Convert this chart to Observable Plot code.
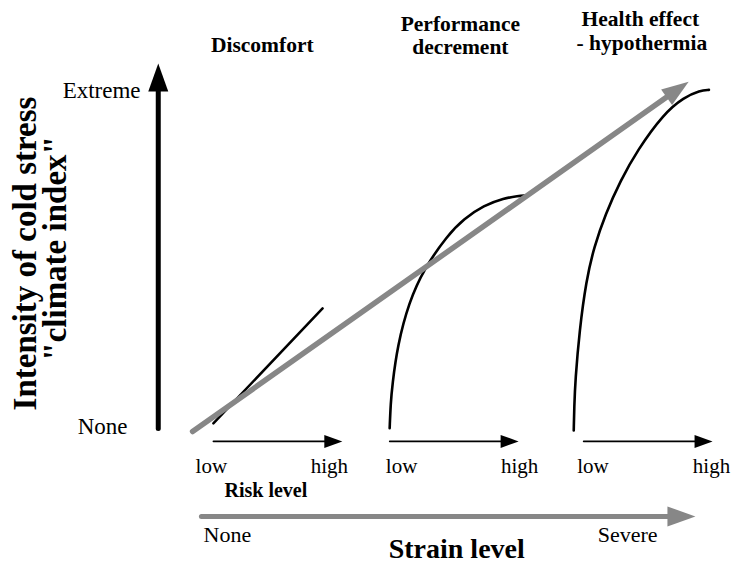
<!DOCTYPE html>
<html><head><meta charset="utf-8">
<script src="https://cdn.jsdelivr.net/npm/d3@7"></script>
<script src="https://cdn.jsdelivr.net/npm/@observablehq/plot@0.6"></script>
<style>body{margin:0;background:#fff} svg{display:block}</style>
</head><body><div id="chart"></div>
<script>
// Conceptual units: x = strain level (0..100), y = intensity of cold stress (0..100)
const intensityAxis = [{x: -6.2, y: 0.6}, {x: -6.2, y: 107.6}];      // start, tip
const stressTrend   = [{x: 0.4, y: -0.3}, {x: 95.8, y: 102.3}];      // start, tip
const strainAxis    = [{x: 2.1, y: -25.2}, {x: 97.1, y: -25.2}];     // start, tip
const riskArrowStart = [4.4, 38.3, 75.6];
const riskArrowTip   = [29.2, 63.1, 100.4];
const riskArrowY     = -3.2;

const discomfortLine = [{x: 4.4, y: 2.1}, {x: 25.4, y: 35.8}];
const performanceCurve = [
  {x: 38.3, y: 0.7}, {x: 38.5, y: 8.0}, {x: 38.8, y: 13.2}, {x: 39.8, y: 24.9}, {x: 42.0, y: 37.6},
  {x: 44.9, y: 47.4}, {x: 49.4, y: 57.2}, {x: 52.6, y: 62.1}, {x: 56.4, y: 66.0},
  {x: 60.3, y: 68.1}, {x: 63.0, y: 68.8}, {x: 64.4, y: 68.9}
];
const healthCurve = [
  {x: 73.7, y: 0.0}, {x: 73.8, y: 7.0}, {x: 74.0, y: 14.7}, {x: 74.8, y: 29.3}, {x: 76.1, y: 44.0},
  {x: 77.6, y: 53.8}, {x: 79.8, y: 63.5}, {x: 82.7, y: 73.3}, {x: 85.9, y: 82.1},
  {x: 91.0, y: 92.9}, {x: 94.9, y: 97.7}, {x: 98.0, y: 99.7}, {x: 99.7, y: 99.9}
];

const effectLabels = [
  {text: "Discomfort", x: 13.8, y: 110.9},
  {text: "Performance", x: 51.9, y: 117.3},
  {text: "decrement", x: 51.9, y: 110.3},
  {text: "Health effect", x: 86.5, y: 118.6},
  {text: "- hypothermia", x: 86.8, y: 111.6}
];
const riskTickLabels = ["low", "high", "low", "high", "low", "high"];
const riskTickX = [4.0, 26.7, 40.6, 63.3, 77.4, 100.2];
const riskTickY = -12.6;
const intensityLabels = [{text: "Extreme", x: -9.6, y: 97.4}, {text: "None", x: -12.1, y: -0.9}];
const strainLabels = [{text: "None", x: 2.5, y: -32.8}, {text: "Severe", x: 78.3, y: -32.8}];
const yTitleLines = [
  {text: "Intensity of cold stress", x: -29.8, y: 51.9},
  {text: "\"climate index\"", x: -24.0, y: 53.4}
];
const strainTitle = [{text: "Strain level", x: 51.2, y: -37.5}];
const riskTitle = [{text: "Risk level", x: 14.5, y: -19.6}];

const X = {domain: [0, 100], range: [190, 710]};
const Y = {domain: [0, 100], range: [430, 89]};
const sx = Plot.scale({x: X}), sy = Plot.scale({y: Y});

function head(len, wid) {
  return {draw(ctx) { ctx.moveTo(0, 0); ctx.lineTo(wid / 2, len); ctx.lineTo(-wid / 2, len); ctx.closePath(); }};
}
function arrowParts(a, b, len) {
  const ax = sx.apply(a.x), ay = sy.apply(a.y), bx = sx.apply(b.x), by = sy.apply(b.y);
  const dx = bx - ax, dy = by - ay, d = Math.hypot(dx, dy);
  const ex = bx - dx / d * len * 0.8, ey = by - dy / d * len * 0.8;
  return {
    shaft: [a, {x: sx.invert(ex), y: sy.invert(ey)}],
    tip: [{x: b.x, y: b.y, angle: Math.atan2(dx, -dy) * 180 / Math.PI}]
  };
}

const GREY = "#878787";
const vArrow = arrowParts(intensityAxis[0], intensityAxis[1], 28);
const dArrow = arrowParts(stressTrend[0], stressTrend[1], 27);
const hArrow = arrowParts(strainAxis[0], strainAxis[1], 28);
const small = riskArrowStart.map((s, i) => arrowParts({x: s, y: riskArrowY}, {x: riskArrowTip[i], y: riskArrowY}, 18));

const marks = [
  Plot.line(vArrow.shaft, {x: "x", y: "y", stroke: "black", strokeWidth: 5, strokeLinecap: "round"}),
  Plot.dot(vArrow.tip, {x: "x", y: "y", rotate: "angle", symbol: head(28, 20), fill: "black", stroke: "none"}),
  Plot.line(discomfortLine, {x: "x", y: "y", stroke: "black", strokeWidth: 2.5, strokeLinecap: "round"}),
  Plot.line(performanceCurve, {x: "x", y: "y", stroke: "black", strokeWidth: 2.6, curve: "basis", strokeLinecap: "round"}),
  Plot.line(healthCurve, {x: "x", y: "y", stroke: "black", strokeWidth: 2.6, curve: "basis", strokeLinecap: "round"}),
  Plot.line(dArrow.shaft, {x: "x", y: "y", stroke: GREY, strokeWidth: 5.5}),
  Plot.dot(dArrow.tip, {x: "x", y: "y", rotate: "angle", symbol: head(27, 19), fill: GREY, stroke: "none"}),
  Plot.line(hArrow.shaft, {x: "x", y: "y", stroke: GREY, strokeWidth: 5}),
  Plot.dot(hArrow.tip, {x: "x", y: "y", rotate: "angle", symbol: head(28, 20), fill: GREY, stroke: "none"}),
  ...small.flatMap(a => [
    Plot.line(a.shaft, {x: "x", y: "y", stroke: "black", strokeWidth: 1.6}),
    Plot.dot(a.tip, {x: "x", y: "y", rotate: "angle", symbol: head(18, 13), fill: "black", stroke: "none"})
  ]),
  Plot.text(effectLabels, {x: "x", y: "y", text: "text", fontWeight: "bold", fontSize: 21.5, lineAnchor: "bottom", fill: "black"}),
  Plot.text(riskTickLabels, {x: (d, i) => riskTickX[i], y: () => riskTickY, text: d => d, fontSize: 21, lineAnchor: "bottom", fill: "black"}),
  Plot.text(intensityLabels, {x: "x", y: "y", text: "text", fontSize: 23, textAnchor: "end", lineAnchor: "bottom", fill: "black"}),
  Plot.text(strainLabels, {x: "x", y: "y", text: "text", fontSize: 22, textAnchor: "start", lineAnchor: "bottom", fill: "black"}),
  Plot.text(riskTitle, {x: "x", y: "y", text: "text", fontSize: 20, fontWeight: "bold", lineAnchor: "bottom", fill: "black"}),
  Plot.text(strainTitle, {x: "x", y: "y", text: "text", fontSize: 28, fontWeight: "bold", lineAnchor: "bottom", fill: "black"}),
  Plot.text(yTitleLines, {x: "x", y: "y", text: "text", fontSize: 33, fontWeight: "bold", rotate: -90, lineAnchor: "bottom", fill: "black"})
];

const chart = Plot.plot({
  width: 731, height: 565,
  margin: 0,
  x: {...X, axis: null},
  y: {...Y, axis: null},
  style: {fontFamily: "'Liberation Serif', 'Times New Roman', serif", background: "white", color: "black", overflow: "visible"},
  marks
});
document.getElementById("chart").appendChild(chart);
</script>
</body></html>
